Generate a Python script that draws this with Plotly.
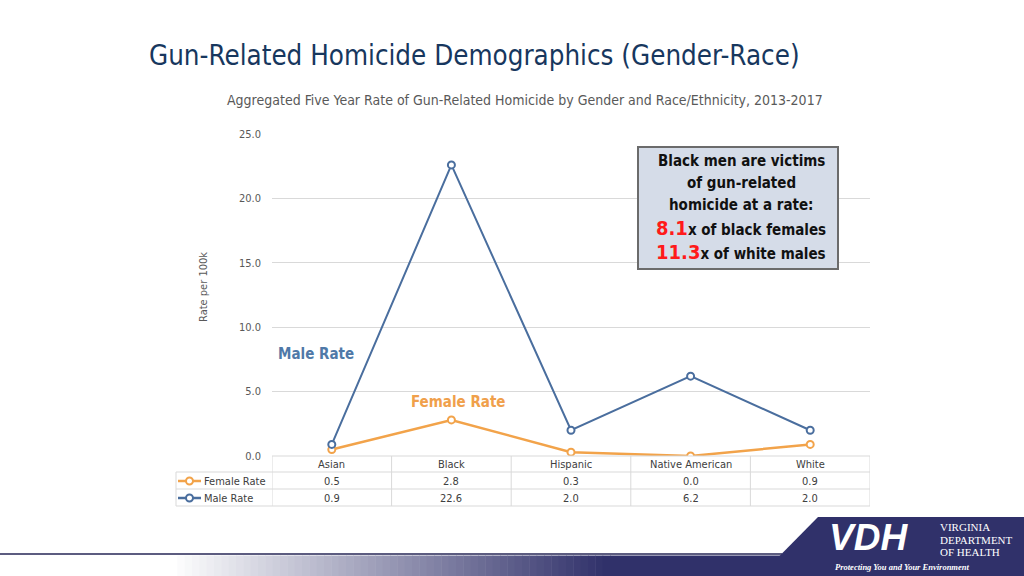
import plotly.graph_objects as go

# data
races = ['Asian', 'Black', 'Hispanic', 'Native American', 'White']
female_rate = [0.5, 2.8, 0.3, 0.0, 0.9]
male_rate = [0.9, 22.6, 2.0, 6.2, 2.0]
y_ticks = [0, 5, 10, 15, 20, 25]

W, H = 1024, 576
FONT = 'DejaVu Sans Condensed, DejaVu Sans, sans-serif'
MALE = '#4a6e9e'
FEMALE = '#f2a34a'
GRID = '#d9d9d9'
NAVY = '#30316a'


def px(x):
    return x / W


def py(y):
    return 1 - y / H


def note(x, y, text, size, color, anchor='center', **kw):
    d = dict(x=x, y=y, xref=kw.pop('xref', 'paper'), yref='paper', text=text, showarrow=False,
             xanchor=anchor, yanchor='middle', font=dict(size=size, color=color, family=kw.pop('family', FONT)))
    d.update(kw)
    return d


fig = go.Figure()

fig.add_trace(go.Scatter(x=races, y=female_rate, mode='lines+markers', name='Female Rate',
                         line=dict(color=FEMALE, width=2.5),
                         marker=dict(symbol='circle', size=7, color='white',
                                     line=dict(color=FEMALE, width=2))))
fig.add_trace(go.Scatter(x=races, y=male_rate, mode='lines+markers', name='Male Rate',
                         line=dict(color=MALE, width=2),
                         marker=dict(symbol='circle', size=7, color='white',
                                     line=dict(color=MALE, width=2))))

fig.update_layout(
    width=W, height=H, margin=dict(l=0, r=0, t=0, b=0, pad=0, autoexpand=False),
    paper_bgcolor='white', plot_bgcolor='white', showlegend=False,
    font=dict(family=FONT, color='#595959'),
    xaxis=dict(domain=[px(272), px(870)], range=[-0.5, 4.5], showticklabels=False, automargin=False,
               showgrid=False, zeroline=False, showline=False, fixedrange=True),
    yaxis=dict(domain=[py(456), py(134)], range=[0, 25], tickvals=y_ticks, tickformat='.1f',
               automargin=False, showgrid=True, gridcolor=GRID, gridwidth=1, zeroline=False,
               showline=False, ticks='', ticklabelstandoff=10, tickfont=dict(size=11, color='#595959')),
)

shapes = []
ann = []

# table grid
for y in (472, 489, 506):
    shapes.append(dict(type='line', xref='paper', yref='paper', x0=px(176), x1=px(870),
                       y0=py(y), y1=py(y), line=dict(color=GRID, width=1)))
shapes.append(dict(type='line', xref='paper', yref='paper', x0=px(272), x1=px(870),
                   y0=py(456), y1=py(456), line=dict(color=GRID, width=1)))
shapes.append(dict(type='line', xref='paper', yref='paper', x0=px(176), x1=px(176),
                   y0=py(472), y1=py(506), line=dict(color=GRID, width=1)))
for i in range(len(races) + 1):
    shapes.append(dict(type='line', xref='x', yref='paper', x0=i - 0.5, x1=i - 0.5,
                       y0=py(456), y1=py(506), line=dict(color=GRID, width=1)))

for i, r in enumerate(races):
    ann.append(note(r, py(464), r, 11, '#404040', xref='x'))
    ann.append(note(r, py(481), f'{female_rate[i]:.1f}', 11, '#404040', xref='x'))
    ann.append(note(r, py(498), f'{male_rate[i]:.1f}', 11, '#404040', xref='x'))

for y, name, col in ((481, 'Female Rate', FEMALE), (498, 'Male Rate', MALE)):
    shapes.append(dict(type='line', xref='paper', yref='paper', x0=px(178), x1=px(201),
                       y0=py(y), y1=py(y), line=dict(color=col, width=2.5)))
    shapes.append(dict(type='circle', xref='paper', yref='paper', x0=px(186), x1=px(193),
                       y0=py(y + 3.5), y1=py(y - 3.5), fillcolor='white',
                       line=dict(color=col, width=2)))
    ann.append(note(px(202), py(y), name, 11, '#404040', anchor='left'))

# titles
ann.append(note(px(147), py(55), 'Gun-Related Homicide Demographics (Gender-Race)', 27.5, '#17375e',
                anchor='left'))
ann.append(note(px(525), py(100),
                'Aggregated Five Year Rate of Gun-Related Homicide by Gender and Race/Ethnicity, 2013-2017',
                14, '#595959'))
ann.append(note(px(203), py(287), 'Rate per 100k', 11, '#595959', textangle=-90))

# series labels
ann.append(note(px(276), py(354), '<b>Male Rate</b>', 15, '#4f79a8', anchor='left'))
ann.append(note(px(409), py(402), '<b>Female Rate</b>', 15, '#f0a04b', anchor='left'))

# callout box
shapes.append(dict(type='rect', xref='paper', yref='paper', x0=px(638), x1=px(838),
                   y0=py(269), y1=py(147), fillcolor='#d5dce8', line=dict(color='#6b6b6b', width=2)))
box_lines = [
    (161, 'Black men are victims'),
    (183, 'of gun-related'),
    (205, 'homicide at a rate:'),
    (228, "<span style='color:#ff1a1a;font-size:20px'>8.1</span>x of black females"),
    (252, "<span style='color:#ff1a1a;font-size:20px'>11.3</span>x of white males"),
]
for y, t in box_lines:
    ann.append(note(px(741), py(y), f'<b>{t}</b>', 15, '#111111'))

# footer: line, gradient band, logo panel
shapes.append(dict(type='line', xref='paper', yref='paper', x0=0, x1=px(782), y0=py(554),
                   y1=py(554), line=dict(color='#5c5c80', width=2)))
n = 60
x_start, x_end = 170, 610
c0 = (255, 255, 255)
c1 = (48, 49, 106)
for k in range(n):
    t = k / (n - 1)
    c = tuple(int(c0[j] + (c1[j] - c0[j]) * t) for j in range(3))
    xa = x_start + (x_end - x_start) * k / n
    xb = x_start + (x_end - x_start) * (k + 1) / n + 0.5
    shapes.append(dict(type='rect', xref='paper', yref='paper', x0=px(xa), x1=px(xb),
                       y0=py(576), y1=py(555.5), fillcolor='rgb(%d,%d,%d)' % c, line=dict(width=0)))
shapes.append(dict(type='rect', xref='paper', yref='paper', x0=px(x_end), x1=px(785),
                   y0=py(576), y1=py(555.5), fillcolor=NAVY, line=dict(width=0)))
shapes.append(dict(type='path', xref='paper', yref='paper',
                   path=f'M {px(780)},{py(555.5)} L {px(818)},{py(517)} L 1,{py(517)} L 1,0 L {px(780)},0 Z',
                   fillcolor=NAVY, line=dict(width=0)))

ann.append(note(px(827), py(537), '<b><i>VDH</i></b>', 37, 'white', anchor='left',
                family='Liberation Sans'))
for y, t in ((527, 'VIRGINIA'), (540, 'DEPARTMENT'), (552, 'OF HEALTH')):
    ann.append(note(px(938), py(y), t, 11, 'white', anchor='left', family='Liberation Serif'))
ann.append(note(px(833), py(567), '<b><i>Protecting You and Your Environment</i></b>', 8.5, 'white',
                anchor='left', family='Liberation Serif'))

fig.update_layout(shapes=shapes, annotations=ann)
fig.write_html('out.html', config={'displayModeBar': False},
               post_script="document.body.style.margin='0';")
